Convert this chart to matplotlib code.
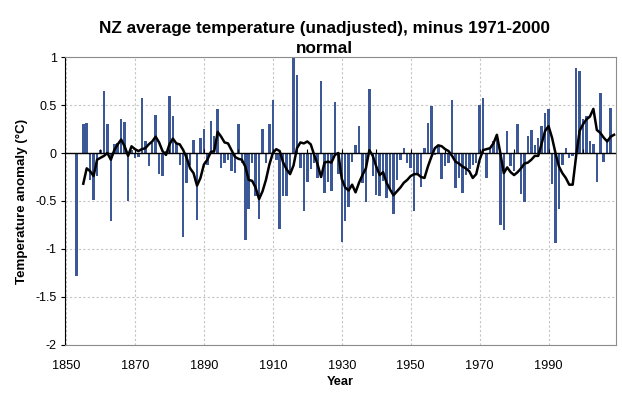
import numpy as np
import matplotlib
matplotlib.use("Agg")
import matplotlib.pyplot as plt

plt.rcParams['font.family'] = ['Liberation Sans', 'DejaVu Sans']

# yearly anomalies, 1853-2008
years = np.arange(1853, 2009)
anomaly = [
    -1.28, 0.00, 0.30, 0.31, -0.28, -0.49, -0.24,                      # 1853-1859
    0.03, 0.65, 0.30, -0.71, 0.09, 0.10, 0.35, 0.32, -0.50, 0.03,      # 1860s
    -0.05, -0.04, 0.57, 0.13, -0.14, 0.10, 0.40, -0.22, -0.24, 0.02,   # 1870s
    0.59, 0.39, 0.10, -0.12, -0.88, -0.31, -0.12, 0.14, -0.70, 0.16,   # 1880s
    0.25, -0.12, 0.33, 0.18, 0.46, -0.16, -0.10, -0.07, -0.19, -0.21,  # 1890s
    0.30, -0.10, -0.91, -0.58, -0.10, -0.45, -0.69, 0.25, -0.10, 0.30, # 1900s
    0.55, -0.07, -0.79, -0.45, -0.45, -0.21, 1.00, 0.81, -0.16, -0.60, # 1910s
    -0.30, -0.17, -0.10, -0.26, 0.75, -0.42, -0.30, -0.40, 0.53, -0.22, # 1920s
    -0.93, -0.71, -0.56, -0.09, 0.08, 0.28, -0.31, -0.51, 0.67, -0.24, # 1930s
    -0.44, -0.45, -0.29, -0.47, -0.38, -0.64, -0.28, -0.07, 0.05, -0.10, # 1940s
    -0.16, -0.60, -0.22, -0.35, 0.05, 0.31, 0.49, -0.02, 0.07, -0.27,  # 1950s
    -0.14, -0.10, 0.55, -0.36, -0.26, -0.42, -0.23, -0.17, -0.12, -0.10, # 1960s
    0.50, 0.57, -0.26, 0.05, 0.12, 0.15, -0.75, -0.80, 0.23, -0.14,    # 1970s
    -0.19, 0.30, -0.43, -0.51, 0.18, 0.24, 0.08, 0.16, 0.28, 0.42,     # 1980s
    0.46, -0.32, -0.94, -0.58, -0.12, 0.05, -0.05, -0.03, 0.89, 0.85,  # 1990s
    0.35, 0.39, 0.13, 0.09, -0.30, 0.63, -0.09, 0.15, 0.47,            # 2000-2008
]

# smoothed curve, 1855-2009
smooth_years = np.arange(1855, 2010)
smooth = [
    -0.32, -0.16, -0.19, -0.24, -0.07,                                  # 1855-1859
    -0.05, -0.03, 0.00, -0.07, 0.03, 0.09, 0.14, 0.07, -0.03, 0.07,     # 1860s
    0.04, 0.02, 0.04, 0.05, 0.09, 0.12, 0.17, 0.11, 0.02, -0.02,        # 1870s
    0.09, 0.15, 0.10, 0.09, 0.03, -0.05, -0.16, -0.21, -0.34, -0.26,    # 1880s
    -0.12, -0.07, 0.01, 0.02, 0.22, 0.17, 0.11, 0.10, 0.03, -0.04,      # 1890s
    -0.06, -0.07, -0.14, -0.28, -0.29, -0.36, -0.48, -0.40, -0.28, -0.12, # 1900s
    0.00, 0.04, 0.02, -0.10, -0.17, -0.22, -0.13, 0.05, 0.11, 0.10,     # 1910s
    0.12, 0.09, -0.02, -0.12, -0.25, -0.10, -0.09, -0.10, -0.02, 0.00,  # 1920s
    -0.27, -0.36, -0.39, -0.33, -0.41, -0.31, -0.23, -0.16, 0.03, -0.03, # 1930s
    -0.14, -0.23, -0.20, -0.31, -0.38, -0.44, -0.40, -0.36, -0.31, -0.28, # 1940s
    -0.24, -0.22, -0.22, -0.25, -0.26, -0.14, -0.04, 0.05, 0.08, 0.07,  # 1950s
    0.04, 0.02, -0.03, -0.09, -0.11, -0.14, -0.16, -0.19, -0.26, -0.22, # 1960s
    -0.07, 0.03, 0.04, 0.05, 0.10, 0.19, 0.00, -0.21, -0.15, -0.20,     # 1970s
    -0.23, -0.20, -0.16, -0.11, -0.10, -0.07, -0.03, -0.03, 0.10, 0.23, # 1980s
    0.28, 0.16, 0.00, -0.14, -0.21, -0.26, -0.33, -0.33, -0.03, 0.23,   # 1990s
    0.30, 0.35, 0.38, 0.46, 0.24, 0.21, 0.16, 0.12, 0.17, 0.19,         # 2000s
]

xticks = np.arange(1850, 2000, 20)
yticks = [-2, -1.5, -1, -0.5, 0, 0.5, 1]
ylabels = ['-2', '-1.5', '-1', '-0.5', '0', '0.5', '1']

fig = plt.figure(figsize=(6.22, 3.94), dpi=100)
ax = fig.add_axes([0.1045, 0.1244, 0.8855, 0.7309])

ax.bar(years, anomaly, width=0.72, color='#3d5897', zorder=2)
ax.axhline(0, color='black', lw=1.0, zorder=3)
ax.vlines(np.arange(1860, 2010, 10), 0, 0.04, color='black', lw=0.8, zorder=3)
ax.plot(smooth_years, smooth, color='black', lw=1.8, zorder=4)

ax.set_xlim(1849.7, 2009.5)
ax.set_ylim(-2, 1)
ax.set_xticks(xticks)
ax.set_yticks(yticks)
ax.set_yticklabels(ylabels)
ax.tick_params(axis='y', labelsize=9, length=3, direction='out', pad=3)
ax.tick_params(axis='x', labelsize=9.2, length=0, pad=11)

ax.grid(True, color='#c4c4c4', lw=0.8, linestyle=(0, (2, 2)), zorder=0)
ax.set_axisbelow(True)

for side in ['top', 'right', 'bottom']:
    ax.spines[side].set_color('#8c8c8c')
ax.spines['left'].set_color('black')

fig.text(0.521, 1 - 56 / 394, 'NZ average temperature (unadjusted), minus 1971-2000\nnormal',
         ha='center', va='bottom', fontsize=12.3, fontweight='bold', linespacing=1.45,
         multialignment='center')
ax.set_xlabel('Year', fontsize=9.2, fontweight='bold', labelpad=3)
ax.set_ylabel('Temperature anomaly (°C)', fontsize=9.6, fontweight='bold', labelpad=5)

fig.savefig('out.png', dpi=100)
